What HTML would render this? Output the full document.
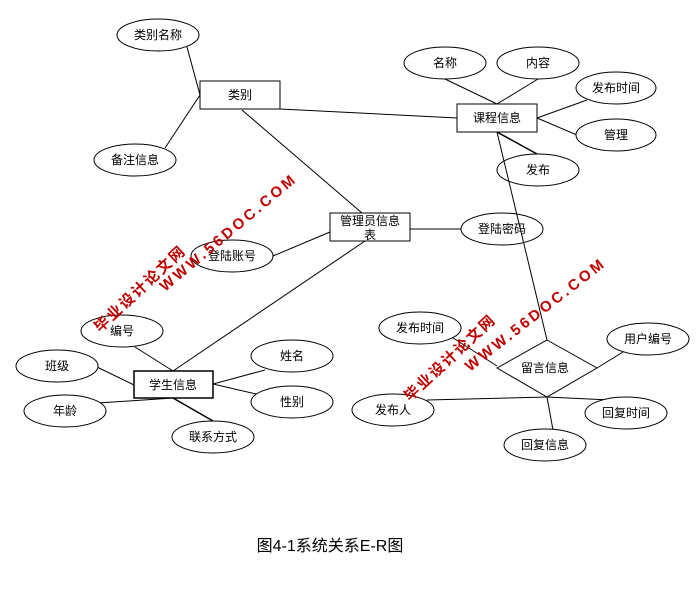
<!DOCTYPE html>
<html><head><meta charset="utf-8"><style>
body{margin:0;background:#fff;}
svg text{font-family:"Liberation Sans","Noto Sans CJK SC",sans-serif;}
</style></head><body>
<svg width="698" height="596" viewBox="0 0 698 596" xmlns="http://www.w3.org/2000/svg">
<g stroke="#000" stroke-width="1" fill="none">
<line x1="187" y1="47" x2="200" y2="95"/>
<line x1="200" y1="95" x2="165" y2="148"/>
<line x1="280" y1="109" x2="457" y2="118"/>
<line x1="242" y1="110" x2="362" y2="213"/>
<line x1="445" y1="79" x2="497" y2="104"/>
<line x1="538" y1="79" x2="497" y2="104"/>
<line x1="537" y1="118" x2="587" y2="100"/>
<line x1="537" y1="118" x2="577" y2="135"/>
<line x1="497" y1="132" x2="537" y2="154" stroke-width="1.5"/>
<line x1="330" y1="232" x2="273" y2="256"/>
<line x1="410" y1="229" x2="461" y2="229"/>
<line x1="365" y1="241" x2="173" y2="371"/>
<line x1="135" y1="347" x2="173" y2="371"/>
<line x1="97" y1="367" x2="134" y2="385"/>
<line x1="98" y1="403" x2="173" y2="398"/>
<line x1="213" y1="421" x2="173" y2="398" stroke-width="1.5"/>
<line x1="265" y1="370" x2="213" y2="384"/>
<line x1="256" y1="394" x2="213" y2="384"/>
<line x1="450" y1="336" x2="497" y2="366"/>
<line x1="597" y1="368" x2="623" y2="352"/>
<line x1="547" y1="397" x2="427" y2="400"/>
<line x1="547" y1="397" x2="610" y2="400"/>
<line x1="547" y1="397" x2="553" y2="430"/>
</g>
<g stroke="#000" stroke-width="1" fill="#fff">
<ellipse cx="158" cy="35" rx="41" ry="16"/>
<ellipse cx="135" cy="160" rx="41" ry="16"/>
<ellipse cx="445" cy="63" rx="41" ry="16"/>
<ellipse cx="538" cy="63" rx="41" ry="16"/>
<ellipse cx="616" cy="88" rx="40" ry="16"/>
<ellipse cx="616" cy="135" rx="40" ry="16"/>
<ellipse cx="538" cy="170" rx="41" ry="16"/>
<ellipse cx="502" cy="229" rx="41" ry="16"/>
<ellipse cx="232" cy="256" rx="41" ry="16"/>
<ellipse cx="122" cy="331" rx="41" ry="16"/>
<ellipse cx="57" cy="366" rx="41" ry="16"/>
<ellipse cx="65" cy="411" rx="41" ry="16"/>
<ellipse cx="213" cy="437" rx="41" ry="16"/>
<ellipse cx="292" cy="356" rx="41" ry="16"/>
<ellipse cx="292" cy="402" rx="41" ry="16"/>
<ellipse cx="420" cy="328" rx="41" ry="16"/>
<ellipse cx="648" cy="339" rx="41" ry="16"/>
<ellipse cx="393" cy="410" rx="41" ry="16"/>
<ellipse cx="626" cy="413" rx="41" ry="16"/>
<ellipse cx="545" cy="445" rx="41" ry="16"/>
<rect x="200" y="81" width="80" height="28"/>
<rect x="457" y="104" width="80" height="28"/>
<rect x="330" y="213" width="80" height="28"/>
<rect x="134" y="371" width="79" height="27" stroke-width="1.5"/>
<polygon points="547,340 597,368 547,397 497,368"/>
</g>
<line x1="497" y1="132" x2="547" y2="340" stroke="#000" stroke-width="1"/>
<g font-size="12" fill="#000" text-anchor="middle">
<text x="158" y="39">类别名称</text>
<text x="135" y="164">备注信息</text>
<text x="240" y="99">类别</text>
<text x="445" y="67">名称</text>
<text x="538" y="67">内容</text>
<text x="616" y="92">发布时间</text>
<text x="616" y="139">管理</text>
<text x="538" y="174">发布</text>
<text x="497" y="122">课程信息</text>
<text x="370" y="225">管理员信息</text>
<text x="370" y="239">表</text>
<text x="502" y="233">登陆密码</text>
<text x="232" y="260">登陆账号</text>
<text x="122" y="335">编号</text>
<text x="57" y="370">班级</text>
<text x="65" y="415">年龄</text>
<text x="213" y="441">联系方式</text>
<text x="292" y="360">姓名</text>
<text x="292" y="406">性别</text>
<text x="173" y="389">学生信息</text>
<text x="420" y="332">发布时间</text>
<text x="648" y="343">用户编号</text>
<text x="393" y="414">发布人</text>
<text x="626" y="417">回复时间</text>
<text x="545" y="449">回复信息</text>
<text x="545" y="372">留言信息</text>
</g>
<g fill="#c00000" font-weight="bold" font-size="15">
<text transform="translate(100,333) rotate(-43)" letter-spacing="2">毕业设计论文网</text>
<text transform="translate(165,292) rotate(-40)" letter-spacing="3">WWW.56DOC.COM</text>
<text transform="translate(410,402) rotate(-43)" letter-spacing="2">毕业设计论文网</text>
<text transform="translate(470,372) rotate(-38)" letter-spacing="3">WWW.56DOC.COM</text>
</g>
<text x="330" y="551" font-size="16" text-anchor="middle" fill="#000">图4-1系统关系E-R图</text>
</svg>
</body></html>
